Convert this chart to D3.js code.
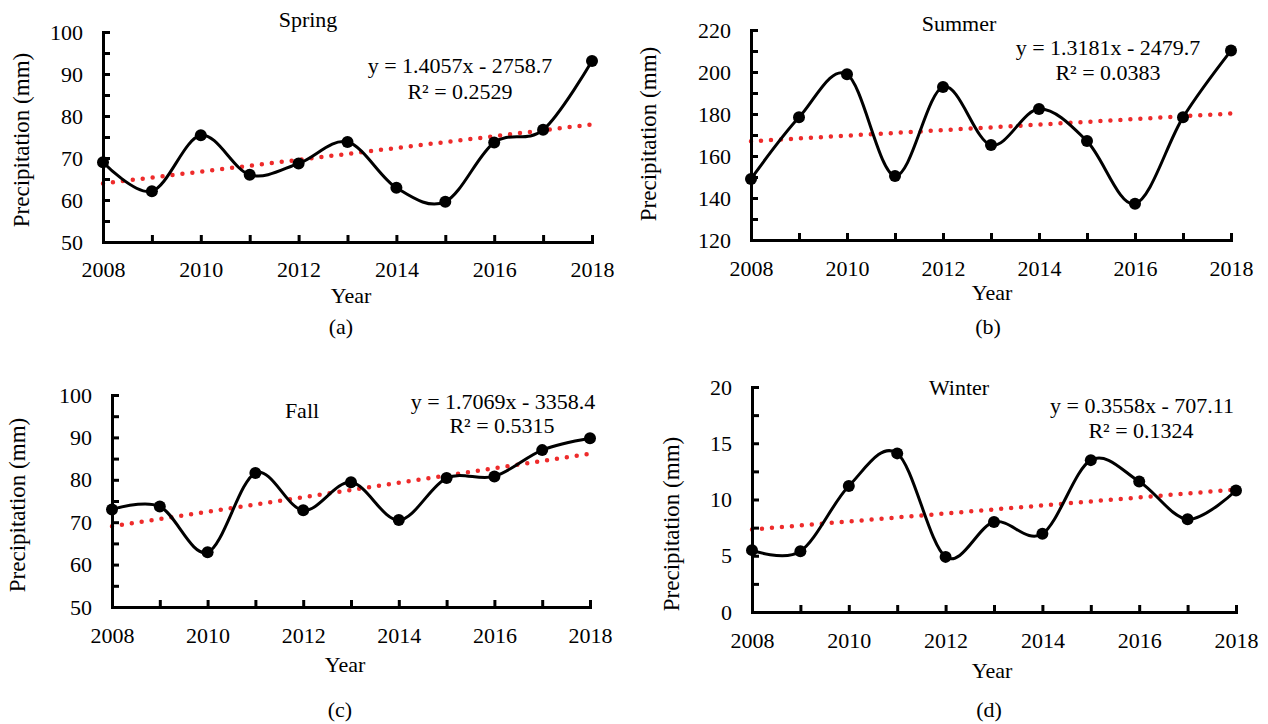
<!DOCTYPE html>
<html lang="en">
<head>
<meta charset="UTF-8">
<title>Seasonal precipitation 2008-2018</title>
<script src="https://cdn.jsdelivr.net/npm/d3@7/dist/d3.min.js"></script>
<style>
  body, html { margin: 0; background: #fff; }
  svg { display: block; font-family: "Liberation Serif", "Times New Roman", serif; }
</style>
</head>
<body>
<svg width="1268" height="724"></svg>
<script>
// data
const years = [2008, 2009, 2010, 2011, 2012, 2013, 2014, 2015, 2016, 2017, 2018];
const yearLabels = [2008, 2010, 2012, 2014, 2016, 2018];
const spring = [69.0, 62.1, 75.4, 66.0, 68.7, 73.8, 62.9, 59.6, 73.7, 76.7, 93.1];
const summer = [149.1, 178.4, 198.9, 150.5, 192.9, 165.2, 182.4, 167.1, 137.3, 178.4, 210.2];
const fall   = [73.0, 73.7, 62.9, 81.6, 72.8, 79.4, 70.5, 80.4, 80.8, 87.0, 89.8];
const winter = [5.5, 5.4, 11.2, 14.1, 4.9, 8.0, 6.95, 13.5, 11.6, 8.25, 10.8];
const seasonNames = ["Spring", "Summer", "Fall", "Winter"];
const panelTags = ["(a)", "(b)", "(c)", "(d)"];
const slopes = [1.4057, 1.3181, 1.7069, 0.3558];
const intercepts = [-2758.7, -2479.7, -3358.4, -707.11];
const eqTexts = ["y = 1.4057x - 2758.7", "y = 1.3181x - 2479.7", "y = 1.7069x - 3358.4", "y = 0.3558x - 707.11"];
const r2Texts = ["R\u00b2 = 0.2529", "R\u00b2 = 0.0383", "R\u00b2 = 0.5315", "R\u00b2 = 0.1324"];
const yDomains = [[50, 100], [120, 220], [50, 100], [0, 20]];
const yMajor = [10, 20, 10, 5];

const series = [spring, summer, fall, winter];

// layout of the four panels (pixel boxes)
const panels = [
  {x0: 103, x1: 592, yTop: 32, yBot: 242, title: [308, 27], eq: [460, 73], r2: [460, 99], year: [351, 303], tag: [341, 334], ylab: [21, 140], xlabBase: 276},
  {x0: 751, x1: 1231, yTop: 30, yBot: 240, title: [959, 31], eq: [1108, 55], r2: [1108, 80], year: [992, 300], tag: [988, 334], ylab: [648, 134], xlabBase: 275},
  {x0: 112, x1: 590, yTop: 395, yBot: 607, title: [302, 418], eq: [503, 409], r2: [502, 433], year: [345, 672], tag: [340, 717], ylab: [17, 505], xlabBase: 642},
  {x0: 752, x1: 1236, yTop: 387, yBot: 612, title: [959, 395], eq: [1142, 413], r2: [1141, 438], year: [992, 678], tag: [989, 717], ylab: [671, 524], xlabBase: 647}
];

const svg = d3.select("svg");
const fs = 22;

panels.forEach((p, i) => {
  const x = d3.scaleLinear().domain([2008, 2018]).range([p.x0, p.x1]);
  const y = d3.scaleLinear().domain(yDomains[i]).range([p.yBot, p.yTop]);
  const g = svg.append("g");

  // trend line (dotted red) from the fitted equation
  const trend = [2008, 2018].map(t => [t, slopes[i] * t + intercepts[i]]);
  g.append("path")
    .attr("d", d3.line().x(d => x(d[0])).y(d => y(d[1]))(trend))
    .attr("fill", "none").attr("stroke", "#ee2b2b").attr("stroke-width", 4.5)
    .attr("stroke-linecap", "round").attr("stroke-dasharray", "0,10");

  // axes
  const minor = yMajor[i] / 2;
  const yTicks = d3.range(yDomains[i][0], yDomains[i][1] + minor / 2, minor);
  const yAxis = d3.axisLeft(y).tickValues(yTicks).tickSize(-7).tickSizeOuter(0).tickPadding(20)
    .tickFormat(d => (Math.abs(d / yMajor[i] - Math.round(d / yMajor[i])) < 1e-6) ? d : "");
  const xAxis = d3.axisBottom(x).tickValues(years).tickSize(-7).tickSizeOuter(0).tickPadding(p.xlabBase - p.yBot - 15)
    .tickFormat(d => yearLabels.includes(d) ? d : "");

  const ya = g.append("g").attr("transform", `translate(${p.x0},0)`).call(yAxis);
  const xa = g.append("g").attr("transform", `translate(0,${p.yBot})`).call(xAxis);
  [ya, xa].forEach(a => {
    a.select(".domain").attr("stroke", "#000").attr("stroke-width", 3).attr("stroke-linecap", "square");
    a.selectAll(".tick line").attr("stroke", "#000").attr("stroke-width", 3);
    a.selectAll(".tick text").attr("fill", "#000").style("font-size", fs + "px")
      .style("font-family", "'Liberation Serif', 'Times New Roman', serif");
  });

  // smoothed data line + markers
  const pts = years.map((t, k) => [t, series[i][k]]);
  g.append("path")
    .attr("d", d3.line().x(d => x(d[0])).y(d => y(d[1])).curve(d3.curveCardinal.tension(0))(pts))
    .attr("fill", "none").attr("stroke", "#000").attr("stroke-width", 3);
  g.selectAll("circle").data(pts).join("circle")
    .attr("cx", d => x(d[0])).attr("cy", d => y(d[1])).attr("r", 6).attr("fill", "#000");

  // texts
  const txt = (pos, s, size) => g.append("text").attr("x", pos[0]).attr("y", pos[1])
    .attr("text-anchor", "middle").style("font-size", (size || fs) + "px").attr("fill", "#000").text(s);
  txt(p.title, seasonNames[i]);
  txt(p.eq, eqTexts[i]);
  txt(p.r2, r2Texts[i]);
  txt(p.year, "Year");
  txt(p.tag, panelTags[i]);
  g.append("text").attr("transform", `translate(${p.ylab[0]},${p.ylab[1]}) rotate(-90)`)
    .attr("text-anchor", "middle").attr("dy", "0.35em").style("font-size", "23px").attr("fill", "#000")
    .text("Precipitation (mm)");
});
</script>
</body>
</html>
